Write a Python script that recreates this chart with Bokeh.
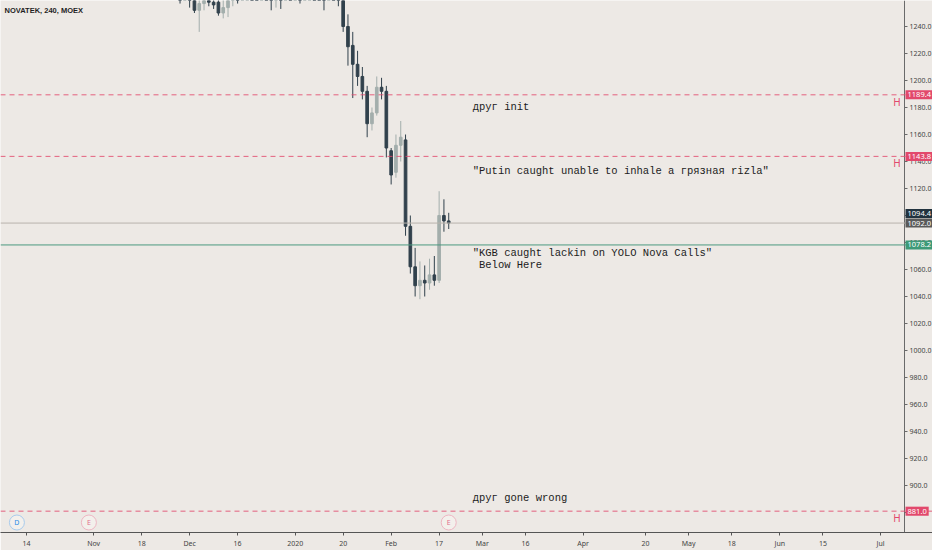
import pandas as pd
from bokeh.plotting import figure
from bokeh.models import Range1d, FixedTicker, Label, Span, ColumnDataSource, PrintfTickFormatter
from bokeh.core.properties import value
from bokeh.embed import file_html
from bokeh.resources import INLINE

# ---------------- data ----------------
title_text = "NOVATEK, 240, MOEX"

holidays = ["2019-11-04", "2020-01-01", "2020-01-02", "2020-01-07", "2020-02-24",
            "2020-03-09", "2020-05-01", "2020-05-11", "2020-06-12"]

first_candle_date = "2019-11-28"
opens = [1270, 1266, 1272, 1262, 1252, 1257, 1262, 1258, 1258, 1250, 1254, 1262, 1268,
         1264, 1274, 1280, 1276, 1270, 1278, 1268, 1262, 1270, 1266, 1276, 1272, 1280,
         1270, 1278, 1286, 1280, 1274, 1268, 1276, 1270,
         1262, 1240, 1226, 1212, 1203, 1192, 1168, 1176, 1195, 1192, 1148, 1132, 1152,
         1156, 1092, 1062, 1048, 1052, 1050, 1056, 1052, 1100, 1096]
highs = [1280, 1278, 1276, 1268, 1264, 1266, 1270, 1266, 1264, 1262, 1268, 1272, 1276,
         1280, 1286, 1290, 1284, 1282, 1286, 1276, 1274, 1278, 1280, 1284, 1286, 1290,
         1282, 1292, 1296, 1288, 1280, 1282, 1284, 1278,
         1266, 1249, 1236, 1222, 1210, 1196, 1180, 1203, 1202, 1196, 1150, 1160, 1170,
         1160, 1100, 1076, 1066, 1063, 1068, 1070, 1118, 1112, 1102]
lows = [1257, 1262, 1254, 1250, 1236, 1252, 1255, 1253, 1248, 1246, 1247, 1255, 1257,
        1262, 1268, 1270, 1266, 1264, 1263, 1252, 1254, 1253, 1263, 1264, 1261, 1257,
        1266, 1270, 1272, 1266, 1252, 1263, 1262, 1255,
        1236, 1211, 1187, 1196, 1186, 1158, 1163, 1174, 1186, 1143, 1123, 1128, 1140,
        1085, 1057, 1040, 1038, 1040, 1045, 1048, 1050, 1088, 1090]
closes = [1266, 1272, 1260, 1252, 1257, 1262, 1258, 1256, 1250, 1254, 1262, 1268, 1264,
          1274, 1280, 1276, 1270, 1278, 1268, 1262, 1270, 1266, 1276, 1272, 1280, 1270,
          1278, 1286, 1280, 1274, 1268, 1276, 1270, 1262,
          1240, 1225, 1212, 1203, 1192, 1168, 1176, 1195, 1192, 1150, 1130, 1152, 1158,
          1092, 1062, 1048, 1052, 1050, 1056, 1052, 1100, 1096, 1094.4]

tick_dates = ["2019-10-14", "2019-11-01", "2019-11-18", "2019-12-02", "2019-12-16",
              "2020-01-03", "2020-01-20", "2020-02-03", "2020-02-17", "2020-03-02",
              "2020-03-16", "2020-04-01", "2020-04-20", "2020-05-04", "2020-05-18",
              "2020-06-01", "2020-06-15", "2020-07-01"]
tick_labels = ["14", "Nov", "18", "Dec", "16", "2020", "20", "Feb", "17", "Mar",
               "16", "Apr", "20", "May", "18", "Jun", "15", "Jul"]

price_ticks = [880, 900, 920, 940, 960, 980, 1000, 1020, 1040, 1060, 1080, 1100,
               1120, 1140, 1160, 1180, 1200, 1220, 1240]

red_levels = [1189.4, 1143.8, 881.0]
green_level = 1078.2
last_price = 1094.4
prev_price = 1092.0

note_date = "2020-02-27"
note_texts = ["друг init",
              "\"Putin caught unable to inhale a грязная rizla\"",
              "\"KGB caught lackin on YOLO Nova Calls\"",
              "\u00a0Below Here",
              "друг gone wrong"]
note_prices = [1180.7, 1133.3, 1072.6, 1063.0, 890.4]

event_letters = ["D", "E", "E"]
event_dates = ["2019-10-10", "2019-10-31", "2020-02-19"]

# ---------------- calendar ----------------
calendar = pd.bdate_range("2019-10-07", "2020-07-31").difference(pd.to_datetime(holidays))
origin = calendar.get_loc(pd.Timestamp("2019-10-14"))


def bar_index(d):
    return calendar.get_loc(pd.Timestamp(d)) - origin


start = bar_index(first_candle_date)
xs = [start + i for i in range(len(opens))]

BG = "#ede9e5"
UP = "#a3aeac"
DOWN = "#31414c"
RED = "#e2496c"
SANS = "Noto Sans"

SCALE_X = 183.0          # x position (bars) of the price scale line
p = figure(frame_width=932, frame_height=532, output_backend="svg", toolbar_location=None,
           x_range=Range1d(-5.42, 188.83), y_range=Range1d(865.2, 1259.26),
           y_axis_location="right", min_border_left=0, min_border_top=0,
           min_border_right=0, min_border_bottom=0)
p.background_fill_color = BG
p.border_fill_color = BG
p.outline_line_color = None
p.grid.visible = False

# candles
colors = [UP if c >= o else DOWN for o, c in zip(opens, closes)]
src = ColumnDataSource(dict(x=xs, o=opens, h=highs, l=lows, c=closes,
                            top=[max(o, c) for o, c in zip(opens, closes)],
                            bottom=[min(o, c) for o, c in zip(opens, closes)],
                            color=colors))
p.segment(x0="x", y0="h", x1="x", y1="l", color="color", line_width=1, source=src)
p.vbar(x="x", width=0.55, top="top", bottom="bottom", fill_color="color",
       line_color="color", source=src)

# horizontal levels
for lv in red_levels:
    p.add_layout(Span(location=lv, dimension="width", line_color=RED, line_alpha=0.85,
                      line_dash="5 4", line_width=1))
p.add_layout(Span(location=green_level, dimension="width", line_color="#4c9a7f",
                  line_width=1))
p.add_layout(Span(location=last_price, dimension="width", line_color="#b9b3ad",
                  line_width=1))

# "H" markers
p.text(x=[SCALE_X - 0.8] * len(red_levels), y=red_levels, text=["H"] * len(red_levels),
       text_color=RED, text_font=value(SANS), text_font_size="10px",
       text_align="right", text_baseline="top", y_offset=0)

# notes
p.text(x=[bar_index(note_date)] * len(note_texts), y=note_prices, text=note_texts,
       text_font=value("Liberation Mono"), text_font_size="10.5px",
       text_color="#1c1c1c", text_align="left", text_baseline="middle")

# events
ex = [bar_index(d) for d in event_dates]
ey = [872.6] * len(ex)
ecol = ["#2b8ce8" if t == "D" else "#e2728c" for t in event_letters]
eborder = ["#a8cbec" if t == "D" else "#edb5c2" for t in event_letters]
p.scatter(x=ex, y=ey, size=15, marker="circle", fill_color="#f3f0ec", line_color=eborder,
          line_width=1)
p.text(x=ex, y=ey, text=event_letters, text_color=ecol, text_font=value(SANS),
       text_font_size="7px", text_align="center", text_baseline="middle")

# title
p.text(x=[p.x_range.start], y=[p.y_range.end], text=[title_text], x_offset=4, y_offset=5,
       text_font=value("Liberation Sans"), text_font_style="bold",
       text_font_size="7.5px", text_color="#1f1f1f", text_baseline="top")

# axes
xa = p.xaxis[0]
xa.ticker = FixedTicker(ticks=[bar_index(d) for d in tick_dates])
xa.major_label_overrides = {bar_index(d): lab for d, lab in zip(tick_dates, tick_labels)}
xa.minor_tick_line_color = None
xa.major_tick_in = 0
xa.major_tick_out = 3
xa.major_label_standoff = 3
xa.axis_line_color = "#555555"
xa.major_tick_line_color = "#555555"
xa.major_label_text_font = SANS
xa.major_label_text_font_size = "7px"
xa.major_label_text_color = "#444444"

ya = p.yaxis[0]
ya.fixed_location = SCALE_X
ya.ticker = FixedTicker(ticks=price_ticks)
ya.formatter = PrintfTickFormatter(format="%.1f")
ya.minor_tick_line_color = None
ya.major_tick_in = 0
ya.major_tick_out = 3
ya.major_label_standoff = 2
ya.axis_line_color = "#6a6a6a"
ya.major_tick_line_color = "#6a6a6a"
ya.major_label_text_font = SANS
ya.major_label_text_font_size = "7px"
ya.major_label_text_color = "#444444"

# price labels on the scale (last/prev stacked so they don't overlap)
stack_gap = 7.0
box_levels = red_levels + [last_price, prev_price, green_level]
box_y = red_levels + [last_price + stack_gap, last_price, green_level]
box_colors = [RED, RED, RED, "#22333f", "#5a5a5a", "#3d9a78"]
for lv, yy, col in zip(box_levels, box_y, box_colors):
    p.add_layout(Label(x=SCALE_X, y=yy, text=f"{lv:.1f}", text_color="white",
                       text_font=SANS, text_font_size="7.5px",
                       text_align="left", text_baseline="middle", x_offset=1,
                       background_fill_color=col, padding=2))

open("out.html", "w").write(file_html(p, INLINE))
